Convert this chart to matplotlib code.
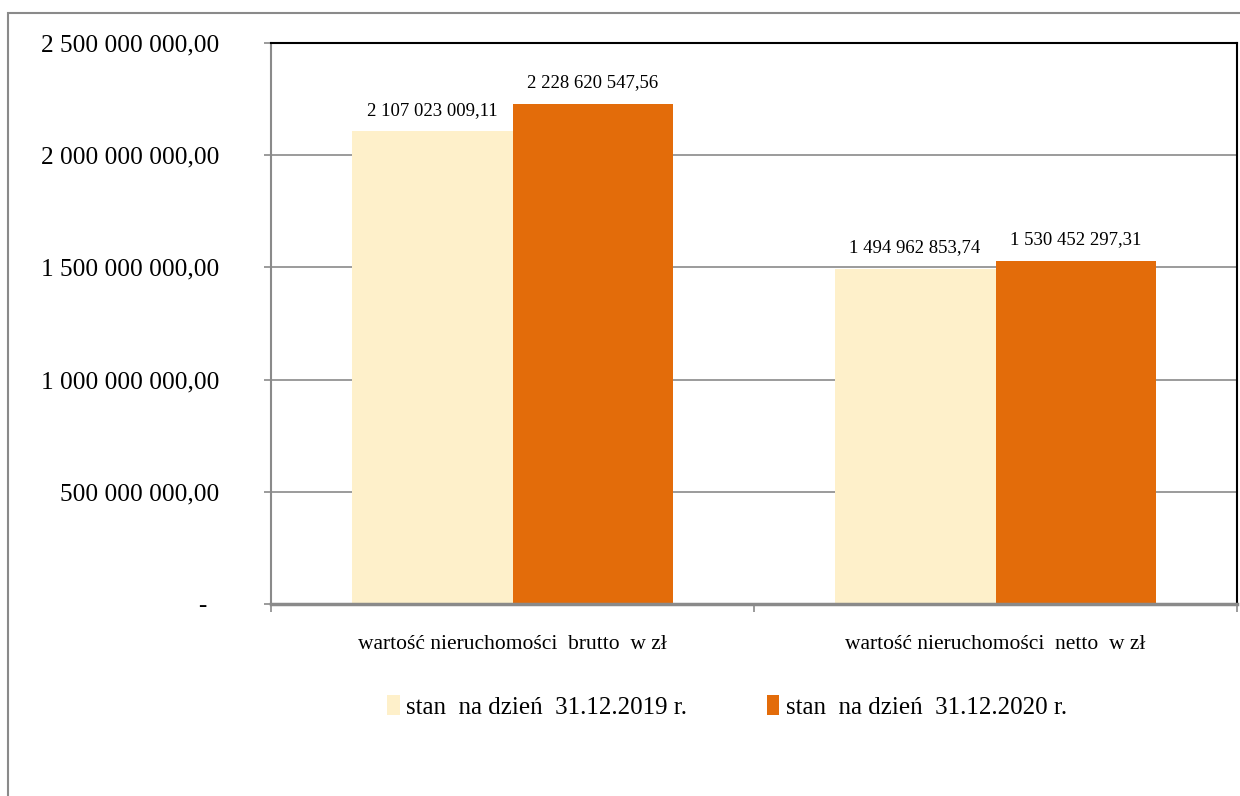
import matplotlib
matplotlib.use("Agg")
import matplotlib.pyplot as plt
from matplotlib.patches import Rectangle
import numpy as np

categories = ["wartość nieruchomości  brutto  w zł", "wartość nieruchomości  netto  w zł"]
series_names = ["stan  na dzień  31.12.2019 r.", "stan  na dzień  31.12.2020 r."]
values_2019 = [2107023009.11, 1494962853.74]
values_2020 = [2228620547.56, 1530452297.31]
yticks = [0, 500000000, 1000000000, 1500000000, 2000000000, 2500000000]

colors = ["#FEF0CA", "#E36C0A"]

plt.rcParams['font.family'] = ['Liberation Serif', 'DejaVu Serif']

def fmt(v):
    s = f"{v:,.2f}"
    s = s.replace(",", " ").replace(".", ",")
    return s

fig = plt.figure(figsize=(12.4, 7.96), dpi=100)
fig.patches.append(Rectangle((8/1240, -0.2), 1.5, 1 - 13/796 + 0.2, transform=fig.transFigure,
                             fill=False, edgecolor="#8a8a8a", linewidth=1.5, zorder=0))
ax = fig.add_axes([271/1240, 1 - 604/796, (1237-271)/1240, (604-43)/796])

x = np.arange(len(categories))
w = 0.333
b1 = ax.bar(x - w/2, values_2019, w, color=colors[0], label=series_names[0], zorder=2)
b2 = ax.bar(x + w/2, values_2020, w, color=colors[1], label=series_names[1], zorder=2)

for bars, vals in ((b1, values_2019), (b2, values_2020)):
    for r, v in zip(bars, vals):
        ax.annotate(fmt(v), (r.get_x() + r.get_width()/2, v), xytext=(0, 9),
                    textcoords="offset points", ha="center", va="bottom", fontsize=13.5)

ax.set_xlim(-0.5, 1.5)
ax.set_ylim(0, 2500000000)
ax.set_yticks(yticks)
ax.set_yticklabels([fmt(v) if v else "-  " for v in yticks], fontsize=18.2)
ax.yaxis.grid(True, color="#8a8a8a", linewidth=1.2, zorder=0)
ax.set_axisbelow(True)

ax.set_xticks([-0.5, 0.5, 1.5])
ax.set_xticklabels([])
ax.set_xticks(x, minor=True)
ax.set_xticklabels(categories, minor=True, fontsize=15.5)
ax.tick_params(axis="x", which="minor", length=0, pad=22)
ax.tick_params(axis="x", which="major", length=6, color="#8a8a8a", width=1.2)
ax.tick_params(axis="y", length=5, color="#8a8a8a", width=1.2, pad=32)

for s in ("left", "bottom"):
    ax.spines[s].set_color("#8a8a8a")
ax.spines["left"].set_linewidth(1.5)
ax.spines["bottom"].set_linewidth(2.5)
ax.spines["top"].set_color("black")
ax.spines["right"].set_color("black")
ax.spines["top"].set_linewidth(1.5)
ax.spines["right"].set_linewidth(1.5)

leg = fig.legend(handles=[b1, b2], loc="center", bbox_to_anchor=(727/1240, 1 - 707/796),
                 ncol=2, frameon=False, fontsize=18, handlelength=0.5, handleheight=0.8,
                 handletextpad=0.25, columnspacing=3.2)

fig.savefig("out.png", dpi=100)
